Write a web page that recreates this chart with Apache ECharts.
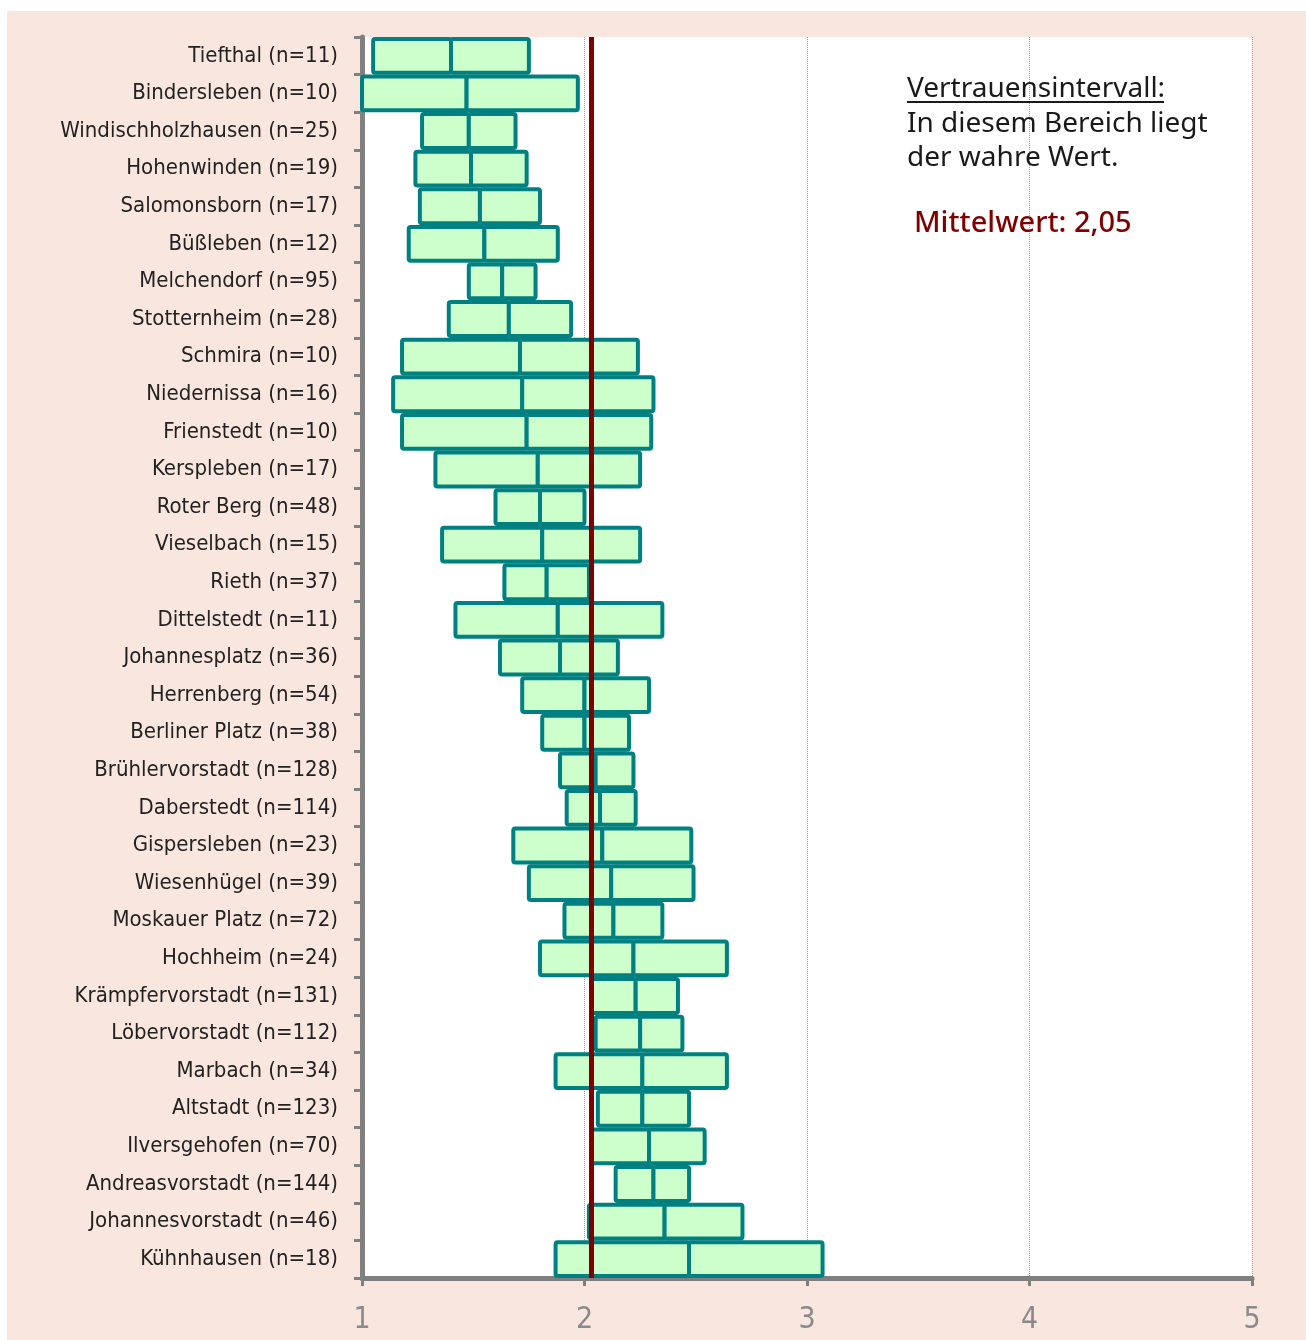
<!DOCTYPE html>
<html>
<head>
<meta charset="utf-8">
<script src="https://cdn.jsdelivr.net/npm/echarts@6/dist/echarts.min.js"></script>
<style>
  html, body { margin: 0; padding: 0; background: #fff; }
  #chart { width: 1306px; height: 1340px; }
</style>
</head>
<body>
<div id="chart"></div>
<script>
// Ortsteile, von oben nach unten
var ortsteile = [
  "Tiefthal (n=11)", "Bindersleben (n=10)", "Windischholzhausen (n=25)", "Hohenwinden (n=19)",
  "Salomonsborn (n=17)", "Büßleben (n=12)", "Melchendorf (n=95)", "Stotternheim (n=28)",
  "Schmira (n=10)", "Niedernissa (n=16)", "Frienstedt (n=10)", "Kerspleben (n=17)",
  "Roter Berg (n=48)", "Vieselbach (n=15)", "Rieth (n=37)", "Dittelstedt (n=11)",
  "Johannesplatz (n=36)", "Herrenberg (n=54)", "Berliner Platz (n=38)", "Brühlervorstadt (n=128)",
  "Daberstedt (n=114)", "Gispersleben (n=23)", "Wiesenhügel (n=39)", "Moskauer Platz (n=72)",
  "Hochheim (n=24)", "Krämpfervorstadt (n=131)", "Löbervorstadt (n=112)", "Marbach (n=34)",
  "Altstadt (n=123)", "Ilversgehofen (n=70)", "Andreasvorstadt (n=144)", "Johannesvorstadt (n=46)",
  "Kühnhausen (n=18)"
];
// untere Grenze des Vertrauensintervalls
var untereGrenze = [
  1.05, 0.97, 1.27, 1.24, 1.26, 1.21, 1.48, 1.39,
  1.18, 1.14, 1.18, 1.33, 1.60, 1.36, 1.64, 1.42,
  1.62, 1.72, 1.81, 1.89, 1.92, 1.68, 1.75, 1.91,
  1.80, 2.03, 2.05, 1.87, 2.06, 2.03, 2.14, 2.02,
  1.87
];
// Mittelwert je Ortsteil
var mittelwerte = [
  1.40, 1.47, 1.48, 1.49, 1.53, 1.55, 1.63, 1.66,
  1.71, 1.72, 1.74, 1.79, 1.80, 1.81, 1.83, 1.88,
  1.89, 2.00, 2.00, 2.05, 2.07, 2.08, 2.12, 2.13,
  2.22, 2.23, 2.25, 2.26, 2.26, 2.29, 2.31, 2.36,
  2.47
];
// obere Grenze des Vertrauensintervalls
var obereGrenze = [
  1.75, 1.97, 1.69, 1.74, 1.80, 1.88, 1.78, 1.94,
  2.24, 2.31, 2.30, 2.25, 2.00, 2.25, 2.02, 2.35,
  2.15, 2.29, 2.20, 2.22, 2.23, 2.48, 2.49, 2.35,
  2.64, 2.42, 2.44, 2.64, 2.47, 2.54, 2.47, 2.71,
  3.07
];
var gesamtMittel = 2.03; // Lage der roten Linie
var gesamtText = "Mittelwert: 2,05";
var xTicks = [1, 2, 3, 4, 5];

var chart = echarts.init(document.getElementById("chart"));

var daten = [];
for (var i = 0; i < ortsteile.length; i++) {
  daten.push([i, untereGrenze[i], mittelwerte[i], obereGrenze[i]]);
}

var boxStyle = {
  fill: "#ccffcc",
  stroke: "#008080",
  lineWidth: 4
};

function renderBox(params, api) {
  var cat = api.value(0);
  var pLow = api.coord([api.value(1), cat]);
  var pMid = api.coord([api.value(2), cat]);
  var pHigh = api.coord([api.value(3), cat]);
  var h = api.size([0, 1])[1] * 0.9;
  var y = pLow[1] - h / 2;
  var clip = {
    x: params.coordSys.x, y: params.coordSys.y,
    width: params.coordSys.width, height: params.coordSys.height
  };
  var r1 = echarts.graphic.clipRectByRect({ x: pLow[0], y: y, width: pMid[0] - pLow[0], height: h }, clip);
  var r2 = echarts.graphic.clipRectByRect({ x: pMid[0], y: y, width: pHigh[0] - pMid[0], height: h }, clip);
  var kids = [];
  if (r1) kids.push({ type: "rect", shape: { x: r1.x, y: r1.y, width: r1.width, height: r1.height, r: 2 }, style: boxStyle });
  if (r2) kids.push({ type: "rect", shape: { x: r2.x, y: r2.y, width: r2.width, height: r2.height, r: 2 }, style: boxStyle });
  return { type: "group", children: kids };
}

var option = {
  backgroundColor: "#ffffff",
  animation: false,
  textStyle: { fontFamily: "'DejaVu Sans Condensed', 'Liberation Sans Narrow', sans-serif" },
  graphic: [
    { type: "rect", z: -10, shape: { x: 7, y: 11, width: 1299, height: 1329 }, style: { fill: "#f9e6df" } },
    {
      type: "text", left: 907, top: 72, z: 10,
      style: {
        text: "Vertrauensintervall:\nIn diesem Bereich liegt\nder wahre Wert.",
        font: "400 28px 'Noto Sans', sans-serif", fill: "#1a1a1a", lineHeight: 34.5
      }
    },
    { type: "line", z: 10, shape: { x1: 907, y1: 102, x2: 1164, y2: 102 }, style: { stroke: "#1a1a1a", lineWidth: 2 } },
    {
      type: "text", left: 914, top: 209, z: 10,
      style: { text: gesamtText, font: "500 29px 'Noto Sans', sans-serif", fill: "#800000" }
    }
  ],
  grid: {
    left: 362, right: 54, top: 37, bottom: 62,
    show: true, backgroundColor: "#ffffff", borderWidth: 0
  },
  xAxis: {
    type: "value",
    min: xTicks[0],
    max: xTicks[xTicks.length - 1],
    interval: 1,
    axisLine: { show: true, lineStyle: { color: "#808080", width: 5 } },
    axisTick: { show: true, length: 8, lineStyle: { color: "#808080", width: 3 } },
    axisLabel: { color: "#8a8a8a", fontSize: 30, margin: 27 },
    splitLine: { show: true, lineStyle: { color: "#a0a0a0", width: 1, type: "dotted" } }
  },
  yAxis: {
    type: "category",
    data: ortsteile,
    inverse: true,
    axisLine: { show: true, lineStyle: { color: "#808080", width: 5 } },
    axisTick: { show: true, length: 8, lineStyle: { color: "#808080", width: 3 } },
    axisLabel: { color: "#222222", fontSize: 22, margin: 24 },
    splitLine: { show: false }
  },
  series: [
    {
      type: "custom",
      renderItem: renderBox,
      encode: { y: 0, x: [1, 2, 3] },
      data: daten,
      z: 2,
      markLine: {
        silent: true,
        symbol: "none",
        label: { show: false },
        lineStyle: { color: "#800000", width: 5, type: "solid" },
        data: [{ xAxis: gesamtMittel }]
      }
    }
  ]
};

chart.setOption(option);
</script>
</body>
</html>
